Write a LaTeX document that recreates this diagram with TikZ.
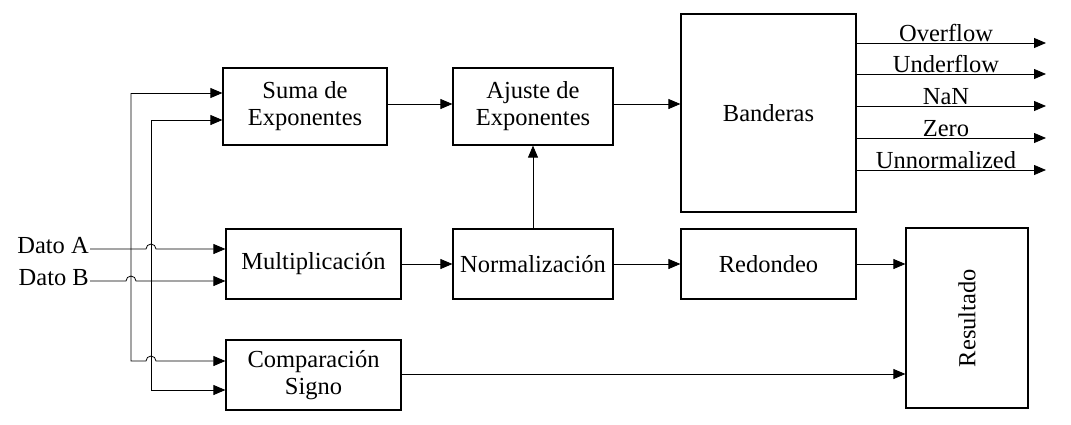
\documentclass[tikz,border=0pt]{standalone}
\usepackage{fontspec}
\setmainfont{Liberation Serif}
\usetikzlibrary{arrows.meta}
\begin{document}
\begin{tikzpicture}[x=1pt,y=1pt,
  blk/.style={draw,line width=1.2pt,minimum width=#1,align=center,inner sep=2pt},
  ar/.style={-{Triangle[length=12pt,width=10pt]},line width=0.8pt},
  ln/.style={line width=0.8pt},
  font=\fontsize{24.5}{27}\selectfont]
\useasboundingbox (0,0) rectangle (1071,-424);
\node[blk=164pt,minimum height=77pt] (suma) at (305,-106.5) {Suma de\\Exponentes};
\node[blk=160pt,minimum height=77pt] (aj) at (533,-106.5) {Ajuste de\\Exponentes};
\node[blk=175pt,minimum height=198pt] (ban) at (768.5,-113) {Banderas};
\node[blk=175pt,minimum height=70pt] (mul) at (313.5,-264) {Multiplicación};
\node[blk=160pt,minimum height=70pt] (nor) at (533,-264) {Normalización};
\node[blk=175pt,minimum height=70pt] (red) at (768.5,-264) {Redondeo};
\node[blk=175pt,minimum height=70pt] (com) at (313.5,-375) {Comparación\\Signo};
\node[blk=122pt,minimum height=180pt] (res) at (967,-318) {};
\node[rotate=90] at (res.center) {Resultado};
\node[anchor=east,inner sep=1pt] (da) at (90,-246) {Dato A};
\node[anchor=east,inner sep=1pt] (db) at (90,-278) {Dato B};
% internal arrows
\draw[ar] (suma.east |- 0,-104) -- (aj.west |- 0,-104);
\draw[ar] (aj.east |- 0,-104) -- (ban.west |- 0,-104);
\draw[ar] (nor.north) -- (aj.south);
\draw[ar] (mul) -- (nor);
\draw[ar] (nor) -- (red);
\draw[ar] (red.east) -- (res.west |- red.east);
\draw[ar] (com.east |- 0,-374) -- (res.west |- 0,-374);
% inputs
\draw[ar] (90,-249) -- (146,-249) arc[start angle=180,end angle=0,radius=5] -- (mul.west |- 0,-249);
\draw[ar] (90,-281) -- (126,-281) arc[start angle=180,end angle=0,radius=5] -- (mul.west |- 0,-281);
\coordinate (ta) at (131,-93);
\coordinate (tb) at (151,-120);
\draw[ar] (ta) -- (suma.west |- ta);
\draw[ar] (ta) -- (131,-361) -- (146,-361) arc[start angle=180,end angle=0,radius=5] -- (com.west |- 0,-361);
\draw[ar] (tb) -- (suma.west |- tb);
\draw[ar] (tb) -- (151,-390) -- (com.west |- 0,-390);
% flags
\foreach \y/\t [count=\i] in {43/Overflow,74/Underflow,106/NaN,138/Zero,170/Unnormalized}{
  \coordinate (f\i) at (1046,-\y);
  \draw[ar] (ban.east |- f\i) -- (f\i);
  \node[anchor=south,inner sep=1pt] at (946,-\y) {\t};
}
\end{tikzpicture}
\end{document}
